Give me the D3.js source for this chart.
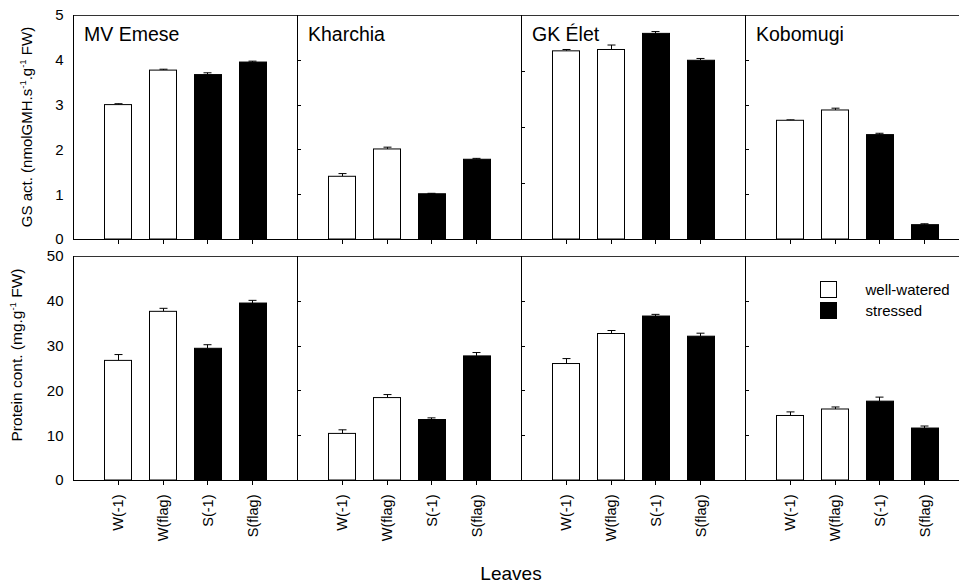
<!DOCTYPE html>
<html>
<head>
<meta charset="utf-8">
<script src="https://cdn.jsdelivr.net/npm/d3@7"></script>
<style>
body { margin: 0; background: #fff; }
svg text { font-family: "Liberation Sans", Arial, sans-serif; fill: #000; }
.axis path, .axis line { stroke: #000; shape-rendering: crispEdges; }
</style>
</head>
<body>
<div id="chart"></div>
<script>
// values
const cultivars = ["MV Emese", "Kharchia", "GK Élet", "Kobomugi"];
const leaves = ["W(-1)", "W(flag)", "S(-1)", "S(flag)"];
const treatment = ["well-watered", "well-watered", "stressed", "stressed"];
const gsAct = [[3.00, 3.77, 3.67, 3.95], [1.40, 2.01, 1.01, 1.78], [4.20, 4.23, 4.59, 3.99], [2.65, 2.88, 2.33, 0.32]];
const gsErr = [[0.02, 0.02, 0.04, 0.02], [0.06, 0.04, 0.01, 0.02], [0.03, 0.10, 0.04, 0.04], [0.01, 0.04, 0.03, 0.02]];
const protein = [[26.7, 37.65, 29.4, 39.5], [10.4, 18.4, 13.5, 27.7], [26.0, 32.7, 36.6, 32.1], [14.4, 15.85, 17.6, 11.6]];
const proteinErr = [[1.3, 0.67, 0.8, 0.6], [0.8, 0.67, 0.37, 0.75], [1.1, 0.67, 0.37, 0.67], [0.8, 0.45, 0.9, 0.45]];
const gsTicks = [0, 1, 2, 3, 4, 5];
const proteinTicks = [0, 10, 20, 30, 40, 50];
const legendLabels = ["well-watered", "stressed"];

var width = 959, height = 583;
var left = 73, panelW = 224;

var svg = d3.select("#chart").append("svg")
    .attr("width", width)
    .attr("height", height);

var fill = d3.scaleOrdinal().domain(["well-watered", "stressed"]).range(["#fff", "#000"]);

function drawRow(top, bottom, maxV, ticks, vals, errs, showLabels, dividerScales) {
    var y = d3.scaleLinear().domain([0, maxV]).range([bottom, top]);

    // top frame line
    svg.append("line")
        .attr("x1", left).attr("x2", left + panelW * 4)
        .attr("y1", top + 0.5).attr("y2", top + 0.5)
        .attr("stroke", "#333").attr("shape-rendering", "crispEdges");

    // left axis labels
    svg.append("g")
        .attr("class", "axis")
        .attr("transform", "translate(" + (left + 0.5) + ",0)")
        .call(d3.axisLeft(y).tickValues(ticks).tickSize(0).tickPadding(10).tickFormat(d3.format("d")))
        .call(function(g) {
            g.select(".domain").attr("d", "M0," + top + "V" + bottom);
            g.selectAll("text").style("font-size", "15px");
        });

    cultivars.forEach(function(c, p) {
        var l = left + p * panelW;
        var x = d3.scalePoint().domain(leaves).range([l + panelW / 5, l + panelW * 4 / 5]);
        var bw = x.step() * 0.6;

        // divider with inward ticks
        if (p > 0) {
            var ys = dividerScales[p];
            var yd = d3.scaleLinear().domain([0, ys[0]]).range([bottom, top]);
            svg.append("g")
                .attr("class", "axis")
                .attr("transform", "translate(" + (l + 0.5) + ",0)")
                .call(d3.axisRight(yd).tickValues(ys[1]).tickSize(3).tickFormat(""))
                .call(function(g) {
                    g.select(".domain").attr("d", "M0," + top + "V" + bottom);
                });
        }

        // bottom axis
        var ax = svg.append("g")
            .attr("class", "axis")
            .attr("transform", "translate(0," + (bottom + 0.5) + ")")
            .call(d3.axisBottom(x).tickSize(4).tickSizeOuter(0).tickFormat(showLabels ? null : ""));
        ax.select(".domain").attr("d", "M" + l + ",0H" + (l + panelW));
        if (showLabels) {
            ax.selectAll("text")
                .style("font-size", "14.5px")
                .attr("text-anchor", "end")
                .attr("transform", "rotate(-90)")
                .attr("x", -14)
                .attr("y", 0)
                .attr("dy", "0.35em");
        }

        // error bars (upper only)
        var eb = svg.append("g");
        leaves.forEach(function(lf, i) {
            var cx = Math.round(x(lf)) + 0.5;
            eb.append("line")
                .attr("x1", cx).attr("x2", cx)
                .attr("y1", y(vals[p][i])).attr("y2", y(vals[p][i] + errs[p][i]))
                .attr("stroke", "#000");
            eb.append("line")
                .attr("x1", cx - 4).attr("x2", cx + 4)
                .attr("y1", y(vals[p][i] + errs[p][i])).attr("y2", y(vals[p][i] + errs[p][i]))
                .attr("stroke", "#000");
        });

        svg.append("g").selectAll("rect")
            .data(leaves)
            .enter()
            .append("rect")
            .attr("x", function(d) { return Math.round(x(d) - bw / 2) + 0.5; })
            .attr("y", function(d, i) { return y(vals[p][i]); })
            .attr("width", Math.round(bw))
            .attr("height", function(d, i) { return bottom - y(vals[p][i]); })
            .attr("fill", function(d, i) { return fill(treatment[i]); })
            .attr("stroke", "#000")
            .attr("stroke-width", 1);
    });
    return y;
}

var gsDiv = [null, [5, [1, 2, 3, 4]], [4, [1, 2, 3]], [5, [1, 2, 3, 4]]];
var prDiv = [null, [50, [10, 20, 30, 40]], [50, [10, 20, 30, 40]], [50, [10, 20, 30, 40]]];

drawRow(15, 239, 5, gsTicks, gsAct, gsErr, false, gsDiv);
drawRow(256, 480, 50, proteinTicks, protein, proteinErr, true, prDiv);

// panel titles
cultivars.forEach(function(c, p) {
    svg.append("text")
        .attr("x", left + p * panelW + 11)
        .attr("y", 41)
        .style("font-size", "19.5px")
        .text(c);
});

// y titles
var t1 = svg.append("text")
    .attr("transform", "translate(32,127) rotate(-90)")
    .attr("text-anchor", "middle")
    .style("font-size", "15px");
t1.append("tspan").text("GS act. (nmolGMH.s");
t1.append("tspan").attr("dy", -6).style("font-size", "9.5px").text("-1");
t1.append("tspan").attr("dy", 6).text(".g");
t1.append("tspan").attr("dy", -6).style("font-size", "9.5px").text("-1");
t1.append("tspan").attr("dy", 6).text(" FW)");

var t2 = svg.append("text")
    .attr("transform", "translate(22,355) rotate(-90)")
    .attr("text-anchor", "middle")
    .style("font-size", "15.5px");
t2.append("tspan").text("Protein cont. (mg.g");
t2.append("tspan").attr("dy", -6).style("font-size", "9.5px").text("-1");
t2.append("tspan").attr("dy", 6).text(" FW)");

// x title
svg.append("text")
    .attr("x", 511)
    .attr("y", 580)
    .attr("text-anchor", "middle")
    .style("font-size", "19px")
    .text("Leaves");

// legend
var legend = svg.append("g").selectAll("g")
    .data(legendLabels)
    .enter()
    .append("g")
    .attr("transform", function(d, i) { return "translate(820.5," + (281.5 + i * 21) + ")"; });
legend.append("rect")
    .attr("width", 16).attr("height", 16)
    .attr("fill", function(d) { return fill(d); })
    .attr("stroke", "#000");
legend.append("text")
    .attr("x", 45)
    .attr("y", 13)
    .style("font-size", "15px")
    .text(function(d) { return d; });
</script>
</body>
</html>
